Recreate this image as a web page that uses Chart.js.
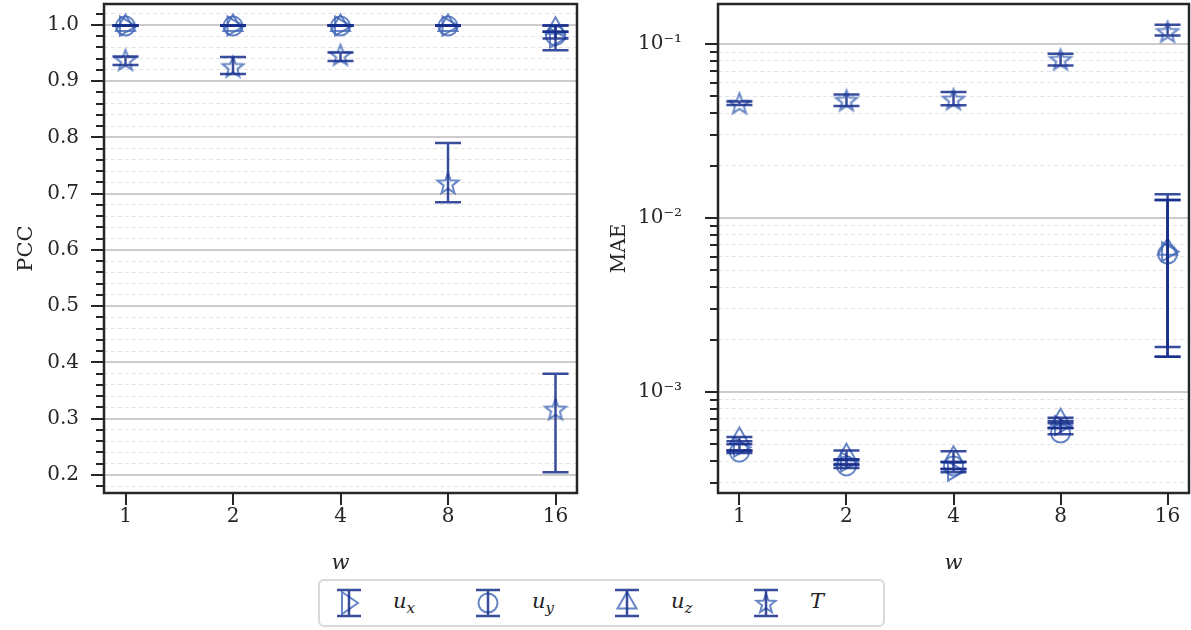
<!DOCTYPE html>
<html>
<head>
<meta charset="utf-8">
<script src="https://cdn.jsdelivr.net/npm/chart.js@4.4.0/dist/chart.umd.min.js"></script>
<style>
  body { margin: 0; background: #fff; width: 1191px; height: 630px; overflow: hidden; position: relative; }
  #left { position: absolute; left: 0; top: 0; }
  #right { position: absolute; left: 600px; top: 0; }
  #legend { position: absolute; left: 318px; top: 579px; width: 563px; height: 44px;
            border: 2px solid #d9d9d9; border-radius: 6px; background: #fff; }
  .item { position: absolute; top: 0; height: 44px; }
  .item canvas { position: absolute; top: 6px; }
  .item span { position: absolute; top: 8px; font-family: 'DejaVu Serif', serif; font-style: italic;
               font-size: 21px; color: #222; white-space: nowrap; }
  .item sub { font-size: 15px; }
</style>
</head>
<body>
<canvas id="left" width="595" height="580"></canvas>
<canvas id="right" width="591" height="580"></canvas>
<div id="legend"></div>
<script>
// categories
const wLabels = ['1', '2', '4', '8', '16'];
const xPos = [0, 1, 2, 3, 4];
const seriesNames = ['u_x', 'u_y', 'u_z', 'T'];

// PCC (left)
const pccUx = [0.998, 0.998, 0.998, 0.998, 0.977];
const pccUy = [0.998, 0.998, 0.998, 0.998, 0.981];
const pccUz = [0.999, 0.999, 0.999, 0.999, 0.994];
const pccT  = [0.938, 0.926, 0.947, 0.719, 0.317];
const pccUxLo = [0.9985, 0.9985, 0.9985, 0.9985, 0.955];
const pccUxHi = [0.9995, 0.9995, 0.9995, 0.9995, 0.999];
const pccUyLo = [0.9985, 0.9985, 0.9985, 0.9985, 0.976];
const pccUyHi = [0.9995, 0.9995, 0.9995, 0.9995, 0.988];
const pccUzLo = [0.9985, 0.9985, 0.9985, 0.9985, 0.988];
const pccUzHi = [0.9995, 0.9995, 0.9995, 0.9995, 0.999];
const pccTLo  = [0.929, 0.913, 0.936, 0.685, 0.205];
const pccTHi  = [0.944, 0.943, 0.951, 0.790, 0.380];

// MAE (right)
const maeUx = [4.8e-4, 3.95e-4, 3.5e-4, 6.4e-4, 0.0064];
const maeUy = [4.5e-4, 3.75e-4, 3.75e-4, 5.8e-4, 0.0062];
const maeUz = [5.4e-4, 4.35e-4, 4.2e-4, 6.9e-4, 0.0066];
const maeT  = [0.0457, 0.0475, 0.0482, 0.0816, 0.118];
const maeUxLo = [4.6e-4, 3.8e-4, 3.45e-4, 6.2e-4, 0.00181];
const maeUxHi = [5.0e-4, 4.1e-4, 3.6e-4, 6.8e-4, 0.0137];
const maeUyLo = [4.45e-4, 3.65e-4, 3.6e-4, 5.7e-4, 0.00159];
const maeUyHi = [4.6e-4, 3.85e-4, 3.95e-4, 6.2e-4, 0.0127];
const maeUzLo = [5.2e-4, 4.05e-4, 3.95e-4, 6.6e-4, 0.00159];
const maeUzHi = [5.5e-4, 4.6e-4, 4.55e-4, 7.1e-4, 0.0127];
const maeTLo  = [0.0447, 0.0440, 0.0445, 0.0754, 0.112];
const maeTHi  = [0.0467, 0.0513, 0.0531, 0.0880, 0.129];

// axis ticks
const pccMajor = [0.2, 0.3, 0.4, 0.5, 0.6, 0.7, 0.8, 0.9, 1.0];
const maeMajor = [1e-3, 1e-2, 1e-1];
const maeLabels = ['10⁻³', '10⁻²', '10⁻¹'];
const maeMinorMult = [2, 3, 4, 5, 6, 7, 8, 9];

const FONT = "'DejaVu Serif', serif";
const errColor = 'rgba(22,46,140,0.85)';
const markColor = 'rgba(66,104,182,0.8)';
const ink = '#262626';

function drawStar(g, cx, cy, R) {
  const r = R * 0.42;
  g.beginPath();
  for (let k = 0; k < 10; k++) {
    const a = -Math.PI / 2 + k * Math.PI / 5;
    const rr = k % 2 ? r : R;
    const px = cx + rr * Math.cos(a), py = cy + rr * Math.sin(a);
    if (k) g.lineTo(px, py); else g.moveTo(px, py);
  }
  g.closePath();
  g.strokeStyle = markColor;
  g.lineWidth = 2;
  g.stroke();
}

function starImage(R) {
  const c = document.createElement('canvas');
  const s = Math.ceil(2 * R + 6);
  c.width = s; c.height = s;
  drawStar(c.getContext('2d'), s / 2, s / 2 + 1, R);
  return c;
}

const pointStyles = ['triangle', 'circle', 'triangle', starImage(11)];
const rotations = [90, 0, 0, 0];
const radii = [11, 9.5, 11, 11];

function makeSets(vals, los, his) {
  return seriesNames.map((name, k) => ({
    label: name,
    data: xPos.map((x, i) => ({ x: x, y: vals[k][i] })),
    lo: los[k],
    hi: his[k],
    showLine: false,
    pointStyle: pointStyles[k],
    pointRotation: rotations[k],
    pointRadius: radii[k],
    pointBorderWidth: 2,
    pointBorderColor: markColor,
    pointBackgroundColor: 'rgba(0,0,0,0)'
  }));
}

const errorBars = {
  id: 'errorBars',
  afterDatasetsDraw(chart) {
    const { ctx, scales: { x, y } } = chart;
    ctx.save();
    ctx.strokeStyle = errColor;
    ctx.lineWidth = 2.5;
    chart.data.datasets.forEach(ds => {
      ds.data.forEach((p, i) => {
        const px = x.getPixelForValue(p.x);
        const y1 = y.getPixelForValue(ds.lo[i]);
        const y2 = y.getPixelForValue(ds.hi[i]);
        ctx.beginPath();
        ctx.moveTo(px, y1); ctx.lineTo(px, y2);
        ctx.moveTo(px - 13, y1); ctx.lineTo(px + 13, y1);
        ctx.moveTo(px - 13, y2); ctx.lineTo(px + 13, y2);
        ctx.stroke();
      });
    });
    ctx.restore();
  }
};

// frame and outward tick marks
const frame = {
  id: 'frame',
  afterDraw(chart) {
    const { ctx, chartArea: a, scales: { x, y } } = chart;
    ctx.save();
    ctx.strokeStyle = ink;
    ctx.lineWidth = 2;
    y.ticks.forEach(t => {
      const py = Math.round(y.getPixelForValue(t.value));
      const len = t.big ? 13 : 8;
      ctx.beginPath(); ctx.moveTo(a.left - len, py); ctx.lineTo(a.left, py); ctx.stroke();
    });
    x.ticks.forEach(t => {
      const px = Math.round(x.getPixelForValue(t.value));
      ctx.beginPath(); ctx.moveTo(px, a.bottom); ctx.lineTo(px, a.bottom + 12); ctx.stroke();
    });
    ctx.lineWidth = 2.5;
    ctx.strokeRect(a.left, a.top, a.right - a.left, a.bottom - a.top);
    ctx.restore();
  }
};

function xScale() {
  return {
    type: 'linear', min: -0.2, max: 4.2,
    afterBuildTicks: s => { s.ticks = xPos.map(v => ({ value: v, big: true })); },
    afterFit: s => { s.height = 87; s.paddingLeft = 0; s.paddingRight = 0; },
    ticks: { autoSkip: false, maxRotation: 0, padding: 12, color: ink,
             font: { family: FONT, size: 20 }, callback: (v, i) => wLabels[i] },
    grid: { display: false, drawTicks: false },
    border: { display: false },
    title: { display: true, text: 'w', color: ink, padding: { top: 0, bottom: 4 },
             font: { family: FONT, size: 21, style: 'italic' } }
  };
}

function gridOpts() {
  return {
    grid: {
      drawTicks: false,
      color: c => c.tick && c.tick.big ? '#cccccc' : '#e4e4e4',
      lineWidth: c => c.tick && c.tick.big ? 2 : 1
    },
    border: { display: false, dash: c => c.tick && c.tick.big ? [] : [4, 3] }
  };
}

const baseOpts = {
  responsive: false, animation: false, events: [],
  plugins: { legend: { display: false }, tooltip: { enabled: false } }
};

// left: PCC
const pccTicks = [];
for (let k = 9; k <= 51; k++) {
  const v = Math.round(k * 2) / 100;
  pccTicks.push({ value: v, big: pccMajor.some(m => Math.abs(m - v) < 1e-9) });
}
new Chart(document.getElementById('left'), {
  type: 'scatter',
  data: { datasets: makeSets([pccUx, pccUy, pccUz, pccT],
                             [pccUxLo, pccUyLo, pccUzLo, pccTLo],
                             [pccUxHi, pccUyHi, pccUzHi, pccTHi]) },
  options: Object.assign({}, baseOpts, {
    layout: { autoPadding: false, padding: { left: 0, right: 18, top: 4, bottom: 0 } },
    scales: {
      x: xScale(),
      y: Object.assign({
        type: 'linear', min: 0.168, max: 1.0373,
        afterBuildTicks: s => { s.ticks = pccTicks.map(t => ({ value: t.value, big: t.big })); },
        afterFit: s => { s.width = 104; s.paddingTop = 0; s.paddingBottom = 0; },
        ticks: { autoSkip: false, padding: 25, color: ink, font: { family: FONT, size: 20 },
                 callback: function (v, i, ticks) { return ticks[i].big ? v.toFixed(1) : ''; } },
        title: { display: true, text: 'PCC', color: ink, padding: { top: 14, bottom: 0 },
                 font: { family: FONT, size: 21 } }
      }, gridOpts())
    }
  }),
  plugins: [errorBars, frame]
});

// right: MAE (log)
const maeTicks = [];
[1e-4, 1e-3, 1e-2, 1e-1].forEach(d => {
  maeMinorMult.forEach(m => maeTicks.push({ value: d * m, big: false }));
});
maeMajor.forEach(v => maeTicks.push({ value: v, big: true }));
maeTicks.sort((a, b) => a.value - b.value);
const maeMin = 2.62e-4, maeMax = 0.170;
new Chart(document.getElementById('right'), {
  type: 'scatter',
  data: { datasets: makeSets([maeUx, maeUy, maeUz, maeT],
                             [maeUxLo, maeUyLo, maeUzLo, maeTLo],
                             [maeUxHi, maeUyHi, maeUzHi, maeTHi]) },
  options: Object.assign({}, baseOpts, {
    layout: { autoPadding: false, padding: { left: 0, right: 2, top: 4, bottom: 0 } },
    scales: {
      x: xScale(),
      y: Object.assign({
        type: 'logarithmic', min: maeMin, max: maeMax,
        afterBuildTicks: s => {
          s.ticks = maeTicks.filter(t => t.value >= maeMin && t.value <= maeMax)
                            .map(t => ({ value: t.value, big: t.big }));
        },
        afterFit: s => { s.width = 118; s.paddingTop = 0; s.paddingBottom = 0; },
        ticks: { autoSkip: false, padding: 36, color: ink, font: { family: FONT, size: 20 },
                 callback: function (v, i, ticks) {
                   if (!ticks[i].big) return '';
                   const j = maeMajor.findIndex(m => Math.abs(m - v) / m < 1e-6);
                   return maeLabels[j];
                 } },
        title: { display: true, text: 'MAE', color: ink, padding: { top: 8, bottom: 0 },
                 font: { family: FONT, size: 20 } }
      }, gridOpts())
    }
  }),
  plugins: [errorBars, frame]
});

// legend
const legend = document.getElementById('legend');
const legendText = [['u', 'x'], ['u', 'y'], ['u', 'z'], ['T', '']];
seriesNames.forEach((name, k) => {
  const item = document.createElement('div');
  item.className = 'item';
  item.style.left = (13 + k * 139) + 'px';
  const c = document.createElement('canvas');
  c.width = 32; c.height = 32;
  const g = c.getContext('2d');
  const cx = 16, cy = 16;
  g.strokeStyle = markColor; g.lineWidth = 2;
  if (k === 0) {
    g.beginPath(); g.moveTo(cx - 7, cy - 11); g.lineTo(cx + 9, cy); g.lineTo(cx - 7, cy + 11); g.closePath(); g.stroke();
  } else if (k === 1) {
    g.beginPath(); g.arc(cx, cy, 9.5, 0, Math.PI * 2); g.stroke();
  } else if (k === 2) {
    g.beginPath(); g.moveTo(cx, cy - 11); g.lineTo(cx + 9.5, cy + 5.5); g.lineTo(cx - 9.5, cy + 5.5); g.closePath(); g.stroke();
  } else {
    drawStar(g, cx, cy + 1, 10);
  }
  g.strokeStyle = errColor; g.lineWidth = 2.5;
  g.beginPath();
  g.moveTo(cx, 3); g.lineTo(cx, 29);
  g.moveTo(cx - 12, 3); g.lineTo(cx + 12, 3);
  g.moveTo(cx - 12, 29); g.lineTo(cx + 12, 29);
  g.stroke();
  c.style.left = '0px';
  item.appendChild(c);
  const lab = document.createElement('span');
  lab.style.left = '60px';
  const t = legendText[k];
  lab.innerHTML = t[0] + (t[1] ? '<sub>' + t[1] + '</sub>' : '');
  item.appendChild(lab);
  legend.appendChild(item);
});
</script>
</body>
</html>
